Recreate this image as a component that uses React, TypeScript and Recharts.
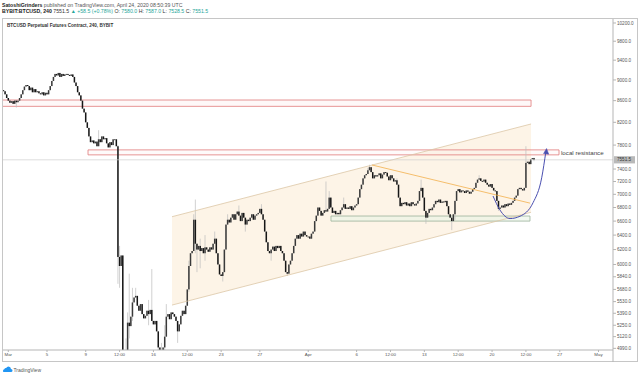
import React from 'react';
import {
  ComposedChart,
  Bar,
  Line,
  Area,
  XAxis,
  YAxis,
  ReferenceArea,
  ReferenceLine,
} from 'recharts';

// day 0 = Mar 1 00:00 UTC; 4h candles starting Feb 29 12:00
const START_DAY = -0.5;
const FIRST_OPEN = 8800;
const LAST_PRICE = 7551.5;

const closes: number[] = [
  8780, 8720, 8650, // Feb 29
  8600, 8560, 8590, 8540, 8600, 8570, // Mar 1
  8600, 8650, 8720, 8800, 8870, 8900, // Mar 2
  8880, 8800, 8850, 8760, 8820, 8760, // Mar 3
  8780, 8740, 8720, 8760, 8700, 8750, // Mar 4
  8720, 8800, 8880, 8980, 9060, 9120, // Mar 5
  9090, 9140, 9060, 9120, 9080, 9110, // Mar 6
  9120, 9100, 9080, 9110, 9060, 8950, // Mar 7
  8880, 8760, 8700, 8600, 8450, 8380, // Mar 8
  8200, 8100, 7950, 7850, 7880, 7830, // Mar 9
  7860, 7780, 7900, 7850, 7950, 7900, // Mar 10
  7920, 7830, 7760, 7850, 7800, 7900, // Mar 11
  7900, 7780, 6100, 5980, 6120, 4800, // Mar 12
  4500, 4900, 5280, 5240, 5350, 5520, // Mar 13
  5580, 5600, 5480, 5420, 5500, 5380, // Mar 14
  5330, 5360, 5420, 5380, 5430, 5300, // Mar 15
  5260, 5300, 5180, 5000, 4880, 4950, // Mar 16
  5000, 5120, 5350, 5380, 5320, 5400, // Mar 17
  5380, 5350, 5300, 5180, 5260, 5360, // Mar 18
  5420, 5380, 5480, 5680, 5980, 6150, // Mar 19
  6180, 6620, 6280, 6200, 6250, 6180, // Mar 20
  6220, 6150, 6230, 6200, 6170, 6230, // Mar 21
  6200, 6280, 6350, 6150, 6000, 5870, // Mar 22
  5850, 5900, 6200, 6550, 6620, 6580, // Mar 23
  6650, 6700, 6620, 6700, 6740, 6680, // Mar 24
  6600, 6720, 6650, 6550, 6620, 6600, // Mar 25
  6650, 6700, 6620, 6680, 6700, 6720, // Mar 26
  6780, 6700, 6620, 6450, 6300, 6180, // Mar 27
  6150, 6200, 6240, 6180, 6250, 6220, // Mar 28
  6250, 6180, 6150, 6050, 5900, 5880, // Mar 29
  6000, 6050, 6150, 6250, 6350, 6400, // Mar 30
  6350, 6420, 6380, 6450, 6400, 6380, // Mar 31
  6380, 6350, 6420, 6450, 6600, 6680, // Apr 1
  6800, 6750, 6680, 6720, 6760, 6740, // Apr 2
  6780, 6950, 6800, 6720, 6750, 6700, // Apr 3
  6720, 6700, 6760, 6800, 6850, 6780, // Apr 4
  6800, 6780, 6820, 6760, 6800, 6830, // Apr 5
  6850, 6950, 7080, 7150, 7250, 7300, // Apr 6
  7320, 7380, 7430, 7350, 7250, 7300, // Apr 7
  7280, 7300, 7330, 7250, 7310, 7350, // Apr 8
  7340, 7280, 7220, 7300, 7250, 7200, // Apr 9
  7220, 7150, 6950, 6820, 6870, 6850, // Apr 10
  6880, 6830, 6860, 6820, 6880, 6850, // Apr 11
  6830, 6860, 6900, 7050, 7100, 6950, // Apr 12
  6750, 6650, 6720, 6780, 6760, 6800, // Apr 13
  6850, 6900, 6880, 6920, 6870, 6890, // Apr 14
  6880, 6900, 6820, 6700, 6650, 6600, // Apr 15
  6700, 6900, 7050, 7080, 7030, 7060, // Apr 16
  7050, 7020, 7060, 7040, 7010, 7040, // Apr 17
  7080, 7100, 7180, 7230, 7250, 7210, // Apr 18
  7200, 7230, 7180, 7150, 7120, 7160, // Apr 19
  7100, 7060, 7050, 6900, 6780, 6800, // Apr 20
  6830, 6800, 6850, 6820, 6860, 6840, // Apr 21
  6870, 6900, 6950, 6980, 7080, 7100, // Apr 22
  7080, 7060, 7100, 7500, 7520, 7480, // Apr 23
  7560, 7580, 7551.5, // Apr 24
];

// notable wick extremes: d = day index (Mar 1 = 0), h = candle hour
const wicks: { d: number; h: number; hi?: number; lo?: number }[] = [
  { d: 0, h: 20, lo: 8470 },
  { d: 9, h: 8, hi: 8060 },
  { d: 11, h: 8, hi: 7800, lo: 5750 },
  { d: 11, h: 12, hi: 6250, lo: 5700 },
  { d: 11, h: 20, lo: 4400 },
  { d: 12, h: 0, hi: 4900, lo: 3600 },
  { d: 12, h: 4, hi: 5100, lo: 4400 },
  { d: 12, h: 8, hi: 5400, lo: 4850 },
  { d: 12, h: 12, hi: 5880, lo: 5100 },
  { d: 12, h: 20, hi: 5700, lo: 5300 },
  { d: 13, h: 4, hi: 5700 },
  { d: 14, h: 12, hi: 5550, lo: 5250 },
  { d: 14, h: 20, hi: 5940 },
  { d: 15, h: 12, lo: 4850 },
  { d: 15, h: 16, lo: 4450 },
  { d: 15, h: 20, hi: 5050, lo: 4700 },
  { d: 16, h: 4, hi: 5250, lo: 4950 },
  { d: 16, h: 8, hi: 5500 },
  { d: 17, h: 12, lo: 5050 },
  { d: 18, h: 16, hi: 6050, lo: 5650 },
  { d: 19, h: 4, hi: 6700 },
  { d: 19, h: 8, hi: 6920, lo: 6150 },
  { d: 19, h: 12, lo: 5900 },
  { d: 19, h: 20, hi: 6350, lo: 5950 },
  { d: 20, h: 8, hi: 6400, lo: 6050 },
  { d: 21, h: 8, hi: 6450 },
  { d: 22, h: 4, lo: 5780 },
  { d: 22, h: 16, hi: 6700 },
  { d: 23, h: 20, hi: 6830 },
  { d: 24, h: 12, lo: 6450 },
  { d: 26, h: 4, hi: 6850 },
  { d: 27, h: 4, lo: 6050 },
  { d: 28, h: 20, lo: 5850 },
  { d: 32, h: 20, hi: 7200 },
  { d: 33, h: 4, hi: 7050 },
  { d: 34, h: 16, hi: 6950 },
  { d: 37, h: 4, hi: 7420 },
  { d: 37, h: 8, hi: 7470 },
  { d: 40, h: 4, hi: 7250 },
  { d: 42, h: 16, hi: 7230 },
  { d: 43, h: 4, lo: 6560 },
  { d: 45, h: 20, lo: 6470 },
  { d: 46, h: 4, lo: 6620 },
  { d: 48, h: 16, hi: 7300 },
  { d: 50, h: 16, lo: 6750 },
  { d: 53, h: 12, hi: 7780 },
  { d: 54, h: 8, hi: 7587, lo: 7528.5 },
];

const xTicks = [0, 4, 8, 11.5, 15, 18.5, 22, 26, 31, 36, 39.5, 43, 46.5, 50, 53.5, 57, 61];
const xTickLabels = ['Mar', '5', '9', '12:00', '16', '12:00', '23', '27', 'Apr', '6', '12:00', '13', '12:00', '20', '12:00', '27', 'May'];
const yTicks = [10200, 9800, 9400, 9000, 8600, 8200, 7800, 7400, 7200, 7000, 6800, 6600, 6400, 6200, 6000, 5840, 5680, 5530, 5390, 5250, 5120, 4990];

// drawings (day index, price)
const channelBand = [
  { t: 16.92, band: [5488, 6664] },
  { t: 54.03, band: [6729, 8170] },
];
const channelUpper = [{ x: 16.92, y: 6664 }, { x: 54.03, y: 8170 }];
const channelLower = [{ x: 16.92, y: 5488 }, { x: 54.03, y: 6729 }];
const trendLine = [{ x: 37.59, y: 7466 }, { x: 53.92, y: 6866 }];
const resistanceZone = { x1: -0.6, x2: 54.03, y1: 8493, y2: 8612 };
const localResistance = { x1: 8.24, x2: 56.92, y1: 7634, y2: 7718 };
const supportZone = { x1: 33.35, x2: 53.92, y1: 6600, y2: 6674 };
const arcPoints = [
  { t: 50.1, p: 6974 },
  { t: 50.82, p: 6762 },
  { t: 51.86, p: 6637 },
  { t: 52.89, p: 6671 },
  { t: 54.24, p: 6873 },
  { t: 55.13, p: 7259 },
  { t: 55.57, p: 7699 },
];

const candles = closes.map((c, i) => {
  const t = START_DAY + i / 6;
  const o = i === 0 ? FIRST_OPEN : closes[i - 1];
  const w = wicks.find((k) => Math.abs(k.d + k.h / 24 - t) < 0.02);
  const hi = Math.max(o, c, w && w.hi !== undefined ? w.hi : -Infinity);
  const lo = Math.min(o, c, w && w.lo !== undefined ? w.lo : Infinity);
  return { t, o, c, hi, lo, range: [lo, hi] };
});

const FONT = '"Liberation Sans", Arial, sans-serif';

const Candle = (props: any) => {
  const { x, y, width, height, payload } = props;
  if (!payload || x === undefined || y === undefined) return null;
  const { o, c, hi, lo } = payload;
  const top = Math.min(y, y + height);
  const H = Math.abs(height);
  const cx = x + width / 2;
  const lh = Math.log(hi);
  const ll = Math.log(lo);
  const py = (v: number) => (lh === ll ? top : top + (H * (lh - Math.log(v))) / (lh - ll));
  const bTop = py(Math.max(o, c));
  const bBot = py(Math.min(o, c));
  const up = c >= o;
  return (
    <g>
      {H > 0 && (
        <line x1={cx} x2={cx} y1={top} y2={top + H} stroke="#bdbdbd" strokeWidth={0.7} />
      )}
      <rect
        x={cx - 0.75}
        y={bTop}
        width={1.5}
        height={Math.max(0.9, bBot - bTop)}
        fill={up ? '#3a3a3a' : '#161616'}
      />
    </g>
  );
};

const PriceTag = (props: any) => {
  const vb = props.viewBox;
  if (!vb) return null;
  const x = vb.x + vb.width;
  const y = vb.y;
  return (
    <g>
      <rect x={x + 1} y={y - 3.6} width={21} height={7.2} fill="#b9b9b9" />
      <text x={x + 4} y={y + 1.6} fontSize={4.6} fill="#333" fontFamily={FONT}>
        {LAST_PRICE.toFixed(1)}
      </text>
    </g>
  );
};

const ArrowDot = (props: any) => {
  const { cx, cy, index } = props;
  if (index !== arcPoints.length - 1) return <g key={`d${index}`} />;
  return (
    <path
      key={`d${index}`}
      d={`M${cx + 0.6},${cy - 2.5} L${cx - 2.4},${cy + 2.6} L${cx + 2.8},${cy + 3.2} Z`}
      fill="#4a4fb0"
      stroke="#4a4fb0"
      strokeWidth={0.5}
    />
  );
};

const xLabel = (v: number) => {
  const i = xTicks.indexOf(v);
  return i >= 0 ? xTickLabels[i] : '';
};

export default function App() {
  return (
    <div style={{ position: 'absolute', left: 0, top: 0, width: 640, height: 376, background: '#fff', fontFamily: FONT }}>
      <ComposedChart
        width={640}
        height={376}
        data={candles}
        margin={{ top: 19, right: 2, bottom: 14, left: 3 }}
      >
        <XAxis
          dataKey="t"
          type="number"
          domain={[-0.548, 62.5]}
          allowDataOverflow
          ticks={xTicks}
          interval={0}
          tickFormatter={xLabel}
          tick={{ fontSize: 4.4, fill: '#555', fontFamily: FONT }}
          tickSize={2}
          tickMargin={1}
          height={12}
          stroke="#b5b5b5"
          tickLine={{ stroke: '#b5b5b5' }}
        />
        <YAxis
          orientation="right"
          scale="log"
          type="number"
          domain={[4972, 10290]}
          allowDataOverflow
          ticks={yTicks}
          interval={0}
          tickFormatter={(v: number) => v.toFixed(1)}
          tick={{ fontSize: 4.6, fill: '#555', fontFamily: FONT }}
          tickSize={3}
          tickMargin={1}
          width={25}
          stroke="#b5b5b5"
          tickLine={{ stroke: '#b5b5b5' }}
        />
        <Area
          data={channelBand}
          dataKey="band"
          type="linear"
          stroke="none"
          fill="#fcf0dd"
          fillOpacity={0.7}
          isAnimationActive={false}
          dot={false}
          activeDot={false}
        />
        <ReferenceLine segment={channelUpper} stroke="#dcc7a6" strokeWidth={0.8} />
        <ReferenceLine segment={channelLower} stroke="#dcc7a6" strokeWidth={0.8} />
        <ReferenceArea
          x1={resistanceZone.x1}
          x2={resistanceZone.x2}
          y1={resistanceZone.y1}
          y2={resistanceZone.y2}
          stroke="#e07a7a"
          strokeWidth={0.8}
          fill="#fdeaea"
          fillOpacity={0.35}
          ifOverflow="hidden"
        />
        <ReferenceArea
          x1={supportZone.x1}
          x2={supportZone.x2}
          y1={supportZone.y1}
          y2={supportZone.y2}
          stroke="#9bb39b"
          strokeWidth={0.8}
          fill="#eaf3e6"
          fillOpacity={0.6}
        />
        <ReferenceLine y={LAST_PRICE} stroke="#cfcfcf" strokeWidth={0.7} label={<PriceTag />} />
        <Bar
          dataKey="range"
          barSize={1}
          shape={<Candle />}
          isAnimationActive={false}
        />
        <ReferenceArea
          x1={localResistance.x1}
          x2={localResistance.x2}
          y1={localResistance.y1}
          y2={localResistance.y2}
          stroke="#e07a7a"
          strokeWidth={0.8}
          fill="#fdeaea"
          fillOpacity={0.25}
          label={{ value: 'local resistance', position: 'right', offset: 2, fontSize: 6.2, fill: '#444', fontFamily: FONT }}
        />
        <ReferenceLine segment={trendLine} stroke="#f2b04c" strokeWidth={0.8} />
        <Line
          data={arcPoints}
          dataKey="p"
          type="monotone"
          stroke="#4a4fb0"
          strokeWidth={1}
          dot={<ArrowDot />}
          activeDot={false}
          isAnimationActive={false}
        />
      </ComposedChart>
      <svg
        width={640}
        height={376}
        style={{ position: 'absolute', left: 0, top: 0, pointerEvents: 'none' }}
        fontFamily={FONT}
      >
        <rect x={2.5} y={18.5} width={635} height={343} fill="none" stroke="#c6c6c6" strokeWidth={1} />
        <line x1={613} x2={613} y1={350} y2={362} stroke="#b5b5b5" strokeWidth={1} />
        <text x={2} y={6.8} fontSize={5.2} fill="#555">
          <tspan fontWeight="bold" fill="#222">SatoshiGrinders</tspan> published on TradingView.com, April 24, 2020 08:50:39 UTC
        </text>
        <text x={2} y={12.9} fontSize={5.2} fill="#333">
          <tspan fontWeight="bold" fill="#222">BYBIT:BTCUSD, 240</tspan>
          <tspan> 7551.5 </tspan>
          <tspan fill="#26a69a">▲ +58.5 (+0.78%)</tspan>
          <tspan> O: </tspan><tspan fill="#26a69a">7580.0</tspan>
          <tspan> H: </tspan><tspan fill="#26a69a">7587.0</tspan>
          <tspan> L: </tspan><tspan fill="#26a69a">7528.5</tspan>
          <tspan> C: </tspan><tspan fill="#26a69a">7551.5</tspan>
        </text>
        <text x={7} y={26.6} fontSize={4.6} fontWeight="bold" fill="#333">
          BTCUSD Perpetual Futures Contract, 240, BYBIT
        </text>
        <path
          d="M3.5,372 L11,372 Q12.5,372 12.5,370.5 Q12.5,369 11,369 Q10.8,366.5 8.5,366.5 Q6.8,366.5 6.2,368 Q4.8,367.8 4.3,369.2 Q3,369.5 3,370.7 Q3,372 3.5,372 Z"
          fill="#2196f3"
        />
        <text x={13.5} y={371.5} fontSize={5} fill="#555">TradingView</text>
      </svg>
    </div>
  );
}
